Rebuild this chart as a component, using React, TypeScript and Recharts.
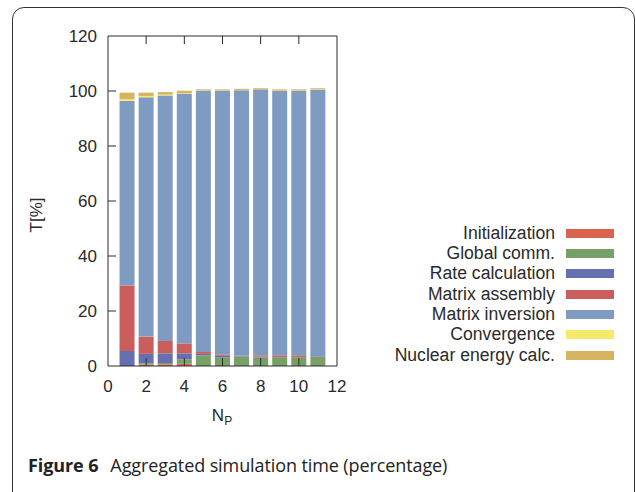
import React from "react";
import { BarChart, Bar, XAxis, YAxis, Legend, ReferenceLine } from "recharts";

// number of processes on the x axis
const np = [1, 2, 3, 4, 5, 6, 7, 8, 9, 10, 11];

// share of total time per phase (stacked bottom -> top), in percent
const initialization = [0, 0.5, 0.6, 0.8, 0, 0, 0, 0, 0, 0, 0];
const globalComm = [0, 0.5, 0.5, 1.6, 3.9, 3.2, 3.5, 3.1, 3.2, 3.2, 3.3];
const rateCalculation = [5.5, 3.4, 3.5, 2.2, 0.5, 0.5, 0.3, 0.3, 0.1, 0.1, 0.2];
const matrixAssembly = [23.8, 6.3, 4.5, 3.6, 0.7, 0.5, 0.1, 0.5, 0.6, 0.6, 0.1];
const matrixInversion = [67.1, 87.0, 89.3, 90.8, 95.0, 95.9, 96.4, 96.7, 96.2, 96.2, 96.9];
const convergence = [0.6, 0.5, 0.3, 0.2, 0.1, 0.1, 0.1, 0.1, 0.1, 0.1, 0.1];
const nuclearEnergy = [2.4, 1.2, 0.9, 0.9, 0.4, 0.4, 0.4, 0.3, 0.4, 0.4, 0.4];

const seriesNames = [
  "Initialization",
  "Global comm.",
  "Rate calculation",
  "Matrix assembly",
  "Matrix inversion",
  "Convergence",
  "Nuclear energy calc.",
];
const seriesKeys = ["init", "comm", "rate", "assembly", "inversion", "conv", "nuclear"];
const seriesColors = ["#d9634e", "#76a065", "#6670b0", "#c95e5c", "#7f9bc2", "#f3ea6c", "#d6b35e"];
const seriesValues = [
  initialization, globalComm, rateCalculation, matrixAssembly,
  matrixInversion, convergence, nuclearEnergy,
];

const xTicks = [0, 2, 4, 6, 8, 10, 12];
const yTicks = [0, 20, 40, 60, 80, 100, 120];

const data = np.map((n, i) => {
  const row: Record<string, number> = { np: n };
  seriesKeys.forEach((k, j) => { row[k] = seriesValues[j][i]; });
  return row;
});

const FONT = "'Liberation Sans', Arial, sans-serif";
const INK = "#2a2a2a";
const TICK_LEN = 8;
const PLOT_TOP = 36;

function LeftTick({ x, y, payload }: any) {
  return (
    <g>
      {payload.value > 0 && payload.value < 120 && (
        <line x1={x} x2={x + TICK_LEN} y1={y} y2={y} stroke={INK} />
      )}
      <text x={x - 11} y={y} dy="0.36em" textAnchor="end" fontFamily={FONT} fontSize={17} fill={INK}>
        {payload.value}
      </text>
    </g>
  );
}

// bottom tick + mirrored tick on the top frame (gnuplot style)
function BottomTick({ x, y, payload }: any) {
  const inner = payload.value > 0 && payload.value < 12;
  return (
    <g>
      {inner && <line x1={x} x2={x} y1={y} y2={y - TICK_LEN} stroke={INK} />}
      {inner && <line x1={x} x2={x} y1={PLOT_TOP} y2={PLOT_TOP + TICK_LEN} stroke={INK} />}
      <text x={x} y={y + 26} textAnchor="middle" fontFamily={FONT} fontSize={17} fill={INK}>
        {payload.value}
      </text>
    </g>
  );
}

function LegendBox() {
  return (
    <div style={{ display: "flex", flexDirection: "column" }}>
      {seriesNames.map((name, i) => (
        <div
          key={name}
          style={{ display: "flex", alignItems: "center", justifyContent: "flex-end", height: 20.35 }}
        >
          <span style={{ fontFamily: FONT, fontSize: 17.6, color: INK, marginRight: 11, whiteSpace: "nowrap" }}>
            {name}
          </span>
          <span style={{ display: "inline-block", width: 48, height: 9, background: seriesColors[i] }} />
        </div>
      ))}
    </div>
  );
}

export default function App() {
  return (
    <div
      style={{
        position: "absolute", left: 0, top: 0, width: 635, height: 492,
        overflow: "hidden", background: "#fff",
      }}
    >
      <div
        style={{
          position: "absolute", left: 12, top: 7, width: 621, height: 520,
          border: "1px solid #333", borderRadius: 12,
        }}
      />
      <div style={{ position: "absolute", left: 0, top: 0 }}>
        <BarChart
          width={635}
          height={430}
          data={data}
          margin={{ top: PLOT_TOP, right: 298, bottom: 0, left: 48 }}
        >
          <XAxis
            dataKey="np"
            type="number"
            domain={[0, 12]}
            ticks={xTicks}
            height={64}
            tickSize={0}
            tickMargin={0}
            tickLine={false}
            axisLine={{ stroke: INK }}
            tick={<BottomTick />}
            interval={0}
          />
          <YAxis
            type="number"
            domain={[0, 120]}
            ticks={yTicks}
            width={60}
            tickSize={0}
            tickMargin={0}
            tickLine={false}
            axisLine={{ stroke: INK }}
            tick={<LeftTick />}
            interval={0}
          />
          <ReferenceLine x={12} stroke={INK} />
          <ReferenceLine y={120} stroke={INK} />
          {seriesKeys.map((k, i) => (
            <Bar
              key={k}
              dataKey={k}
              name={seriesNames[i]}
              stackId="t"
              fill={seriesColors[i]}
              barSize={15}
              isAnimationActive={false}
            />
          ))}
          <Legend
            layout="horizontal"
            align="center"
            verticalAlign="middle"
            content={<LegendBox />}
            wrapperStyle={{ position: "absolute", left: 380, top: 223, width: 234 }}
          />
        </BarChart>
      </div>
      <div
        style={{
          position: "absolute", left: 222, top: 417, transform: "translate(-50%, -50%)",
          fontFamily: FONT, fontSize: 17, color: INK, whiteSpace: "nowrap",
        }}
      >
        N<sub style={{ fontSize: 12, verticalAlign: "-4px" }}>P</sub>
      </div>
      <div
        style={{
          position: "absolute", left: 37, top: 215, transform: "translate(-50%, -50%) rotate(-90deg)",
          fontFamily: FONT, fontSize: 17, color: INK, whiteSpace: "nowrap",
        }}
      >
        T[%]
      </div>
      <div
        style={{
          position: "absolute", left: 28, top: 453, fontFamily: "'Open Sans', 'Noto Sans', sans-serif",
          fontSize: 18, color: "#222", whiteSpace: "nowrap", letterSpacing: -0.1,
        }}
      >
        <b>Figure 6</b>
        <span style={{ marginLeft: 12 }}>Aggregated simulation time (percentage)</span>
      </div>
    </div>
  );
}
